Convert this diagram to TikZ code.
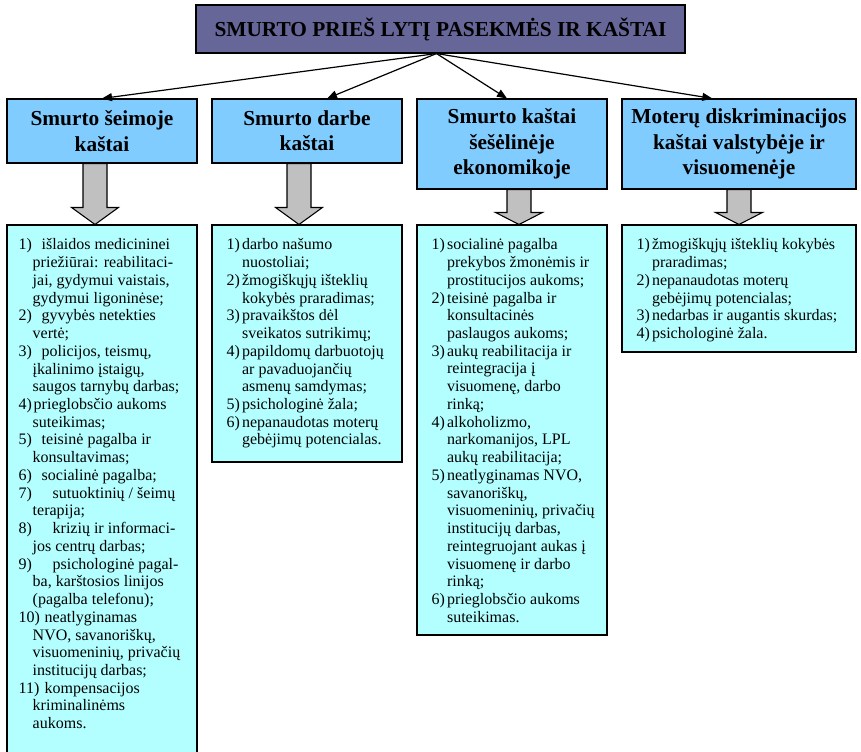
\documentclass[tikz,border=0pt]{standalone}
\usepackage{fontspec}
\setmainfont{Liberation Serif}
\usetikzlibrary{arrows.meta}
\usetikzlibrary{calc}
\definecolor{sptitlefill}{HTML}{666699}
\definecolor{spheadfill}{HTML}{80CCFF}
\definecolor{splistfill}{HTML}{B3FFFF}
\definecolor{spblockfill}{HTML}{C0C0C0}
\definecolor{spink}{HTML}{000000}
\tikzset{
  spbox/.style={draw=spink, line width=0.8pt, inner sep=0pt},
  sptitle/.style={
    spbox, fill=sptitlefill, font=\fontsize{16}{19}\selectfont\bfseries},
  sphead/.style={
    spbox, fill=spheadfill, align=center,
    font=\fontsize{16}{19}\selectfont\bfseries},
  splist/.style={spbox, fill=splistfill},
  sptext/.style={
    anchor=north west, inner sep=0pt, align=left,
    font=\fontsize{12}{13.3}\selectfont},
  sparrow/.style={-{Triangle[length=7.5pt, width=6pt]}, draw=spink,
    line width=0.9pt},
  spblock/.style={draw=spink, fill=spblockfill, line width=0.8pt,
    line join=miter},
}
\newcommand{\spitem}[3]{\makebox[#1][l]{#2}#3}

\begin{document}
\begin{tikzpicture}[x=0.75pt, y=-0.75pt]
\useasboundingbox (0, 0) rectangle (861, 751);

% Title.
\node[sptitle, minimum width=366.75pt, minimum height=36pt] (title)
  at (440.5, 29) {SMURTO PRIEŠ LYTĮ PASEKMĖS IR KAŠTAI};

% The four cost groups.
\node[sphead, minimum width=142.5pt, minimum height=48pt] (h1)
  at (102, 131) {Smurto šeimoje\\kaštai};
\node[sphead, minimum width=142.5pt, minimum height=48pt] (h2)
  at (307, 131) {Smurto darbe\\kaštai};
\node[sphead, minimum width=142.5pt, minimum height=67.5pt] (h3)
  at (512, 144) {Smurto kaštai\\šešėlinėje\\ekonomikoje};
\node[sphead, minimum width=175.5pt, minimum height=67.5pt] (h4)
  at (739, 144) {Moterų diskriminacijos\\kaštai valstybėje ir\\visuomenėje};

\foreach \k/\dx in {1/0pt, 2/15pt, 3/-3.75pt, 4/-20pt} {
  \draw[sparrow] ([xshift=-3pt]title.south) -- ([xshift=\dx]h\k.north);
}

% Lists of costs.
\node[splist, minimum width=142.5pt, minimum height=396pt] (l1)
  at (102, 489) {};
\node[splist, minimum width=142.5pt, minimum height=177.75pt] (l2)
  at (307, 343.5) {};
\node[splist, minimum width=142.5pt, minimum height=307.5pt] (l3)
  at (512, 430) {};
\node[splist, minimum width=175.5pt, minimum height=95.25pt] (l4)
  at (739, 288.5) {};

% Block arrows from each group to its list.
\foreach \k/\dx/\hh in {1/-7/12.75pt, 2/-8/12.75pt, 3/7/9pt, 4/0/9pt} {
  \draw[spblock] let \p1=($(h\k.south)+(\dx,0)$),
                     \p2=($(l\k.north)+(\dx,0)$) in
    (\x1-9pt, \y1) -- (\x1-9pt, {\y2+\hh}) -- (\x1-17.6pt, {\y2+\hh})
    -- (\x2, \y2) -- (\x1+17.6pt, {\y2+\hh}) -- (\x1+9pt, {\y2+\hh})
    -- (\x1+9pt, \y1) -- cycle;
}

\node[sptext] (t1) at ($(l1.north west)+(12, 14)$) {%
  \spitem{17.25pt}{1)}{išlaidos medicininei}\\
  \hspace*{10.5pt}priežiūrai: reabilitaci-\\
  \hspace*{10.5pt}jai, gydymui vaistais,\\
  \hspace*{10.5pt}gydymui ligoninėse;\\
  \spitem{17.25pt}{2)}{gyvybės netekties}\\
  \hspace*{10.5pt}vertė;\\
  \spitem{17.25pt}{3)}{policijos, teismų,}\\
  \hspace*{10.5pt}įkalinimo įstaigų,\\
  \hspace*{10.5pt}saugos tarnybų darbas;\\
  \spitem{11.25pt}{4)}{prieglobsčio aukoms}\\
  \hspace*{10.5pt}suteikimas;\\
  \spitem{17.25pt}{5)}{teisinė pagalba ir}\\
  \hspace*{10.5pt}konsultavimas;\\
  \spitem{17.25pt}{6)}{socialinė pagalba;}\\
  \spitem{25.5pt}{7)}{sutuoktinių / šeimų}\\
  \hspace*{10.5pt}terapija;\\
  \spitem{25.5pt}{8)}{krizių ir informaci-}\\
  \hspace*{10.5pt}jos centrų darbas;\\
  \spitem{25.5pt}{9)}{psichologinė pagal-}\\
  \hspace*{10.5pt}ba, karštosios linijos\\
  \hspace*{10.5pt}(pagalba telefonu);\\
  \spitem{19.5pt}{10)}{neatlyginamas}\\
  \hspace*{10.5pt}NVO, savanoriškų,\\
  \hspace*{10.5pt}visuomeninių, privačių\\
  \hspace*{10.5pt}institucijų darbas;\\
  \spitem{19.5pt}{11)}{kompensacijos}\\
  \hspace*{10.5pt}kriminalinėms\\
  \hspace*{10.5pt}aukoms.};

\node[sptext] (t2) at ($(l2.north west)+(15, 14)$) {%
  \spitem{11.5pt}{1)}{darbo našumo}\\
  \hspace*{11.5pt}nuostoliai;\\
  \spitem{11.5pt}{2)}{žmogiškųjų išteklių}\\
  \hspace*{11.5pt}kokybės praradimas;\\
  \spitem{11.5pt}{3)}{pravaikštos dėl}\\
  \hspace*{11.5pt}sveikatos sutrikimų;\\
  \spitem{11.5pt}{4)}{papildomų darbuotojų}\\
  \hspace*{11.5pt}ar pavaduojančių\\
  \hspace*{11.5pt}asmenų samdymas;\\
  \spitem{11.5pt}{5)}{psichologinė žala;}\\
  \spitem{11.5pt}{6)}{nepanaudotas moterų}\\
  \hspace*{11.5pt}gebėjimų potencialas.};

\node[sptext] (t3) at ($(l3.north west)+(15, 14)$) {%
  \spitem{11.5pt}{1)}{socialinė pagalba}\\
  \hspace*{11.5pt}prekybos žmonėmis ir\\
  \hspace*{11.5pt}prostitucijos aukoms;\\
  \spitem{11.5pt}{2)}{teisinė pagalba ir}\\
  \hspace*{11.5pt}konsultacinės\\
  \hspace*{11.5pt}paslaugos aukoms;\\
  \spitem{11.5pt}{3)}{aukų reabilitacija ir}\\
  \hspace*{11.5pt}reintegracija į\\
  \hspace*{11.5pt}visuomenę, darbo\\
  \hspace*{11.5pt}rinką;\\
  \spitem{11.5pt}{4)}{alkoholizmo,}\\
  \hspace*{11.5pt}narkomanijos, LPL\\
  \hspace*{11.5pt}aukų reabilitacija;\\
  \spitem{11.5pt}{5)}{neatlyginamas NVO,}\\
  \hspace*{11.5pt}savanoriškų,\\
  \hspace*{11.5pt}visuomeninių, privačių\\
  \hspace*{11.5pt}institucijų darbas,\\
  \hspace*{11.5pt}reintegruojant aukas į\\
  \hspace*{11.5pt}visuomenę ir darbo\\
  \hspace*{11.5pt}rinką;\\
  \spitem{11.5pt}{6)}{prieglobsčio aukoms}\\
  \hspace*{11.5pt}suteikimas.};

\node[sptext] (t4) at ($(l4.north west)+(15, 14)$) {%
  \spitem{11.5pt}{1)}{žmogiškųjų išteklių kokybės}\\
  \hspace*{11.5pt}praradimas;\\
  \spitem{11.5pt}{2)}{nepanaudotas moterų}\\
  \hspace*{11.5pt}gebėjimų potencialas;\\
  \spitem{11.5pt}{3)}{nedarbas ir augantis skurdas;}\\
  \spitem{11.5pt}{4)}{psichologinė žala.}};

\end{tikzpicture}
\end{document}
